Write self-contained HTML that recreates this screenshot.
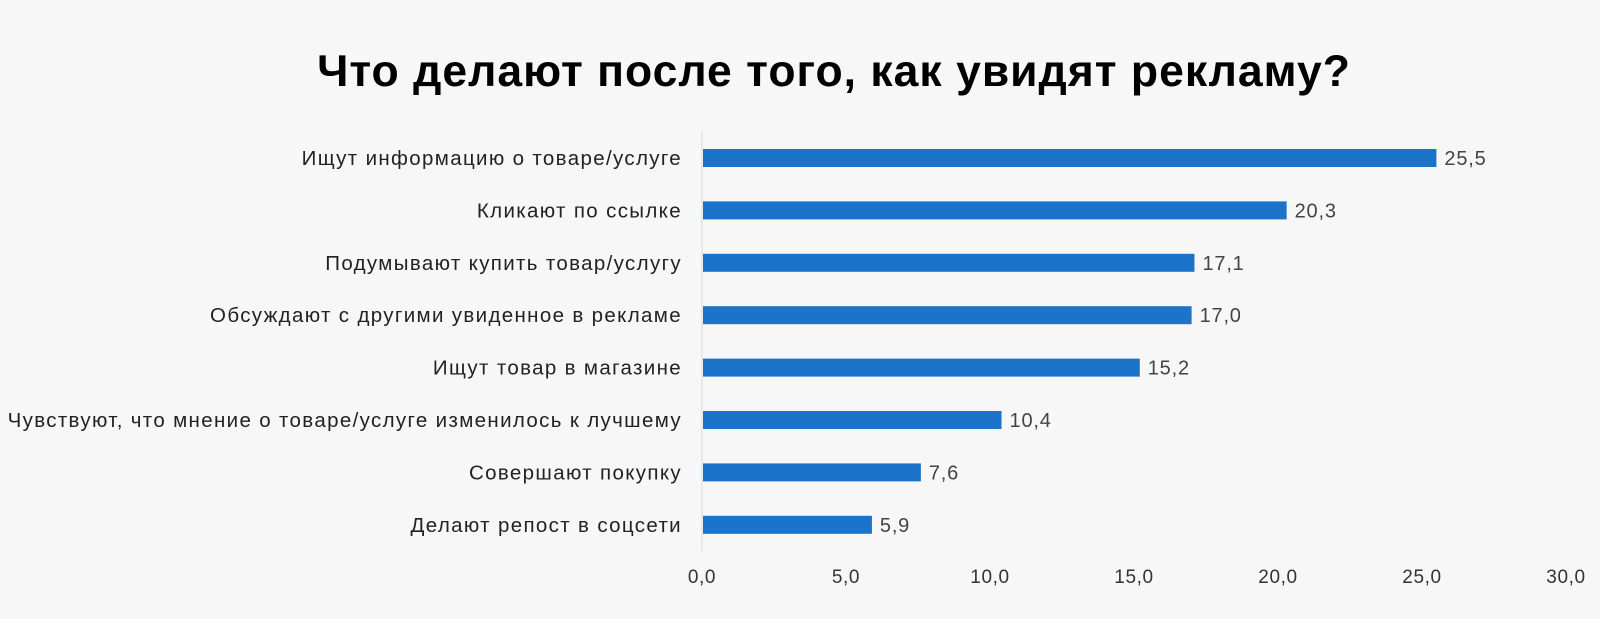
<!DOCTYPE html>
<html><head><meta charset="utf-8"><style>
body{margin:0;background:#f7f7f7;width:1600px;height:614px;overflow:hidden;font-family:"Liberation Sans","DejaVu Sans",sans-serif}
</style></head><body>
<svg width="1600" height="614">
<text x="834" y="86" text-anchor="middle" font-size="44.5" font-weight="bold" letter-spacing="1" fill="#000">Что делают после того, как увидят рекламу?</text>
<line x1="702" y1="132" x2="702" y2="551" stroke="#d9d9d9" stroke-width="1"/>
<g id="bars"></g>
</svg>
<script>
const categories=["Ищут информацию о товаре/услуге","Кликают по ссылке","Подумывают купить товар/услугу","Обсуждают с другими увиденное в рекламе","Ищут товар в магазине","Чувствуют, что мнение о товаре/услуге изменилось к лучшему","Совершают покупку","Делают репост в  соцсети"];
const values=[25.5,20.3,17.1,17.0,15.2,10.4,7.6,5.9];
const ticks=[0,5,10,15,20,25,30];
const NS="http://www.w3.org/2000/svg";
const g=document.getElementById('bars');
const x=v=>702+v*28.8;
const y=i=>158+i*52.4;
const fmt=v=>v.toFixed(1).replace('.',',');
function mk(tag,attrs){const e=document.createElementNS(NS,tag);for(const k in attrs)e.setAttribute(k,attrs[k]);g.appendChild(e);return e;}
categories.forEach((c,i)=>{
  const r=mk('rect',{x:x(0)+1,y:y(i)-9,width:x(values[i])-x(0)-1,height:18,fill:'#1b74c9'});
  
  
  const t=mk('text',{x:682,y:y(i)+7,'text-anchor':'end','font-size':20.5,'letter-spacing':1.35,fill:'#222','xml:space':'preserve'});
  t.textContent=c;
  
  
  const v=mk('text',{x:x(values[i])+8,y:y(i)+7,'font-size':20,'letter-spacing':0.8,fill:'#444'});
  v.textContent=fmt(values[i]);
  
  
});
ticks.forEach(tv=>{
  const t=mk('text',{x:x(tv),y:583,'text-anchor':'middle','font-size':19,'letter-spacing':0.6,fill:'#333'});
  t.textContent=fmt(tv);
  
  
});
</script>
</body></html>
